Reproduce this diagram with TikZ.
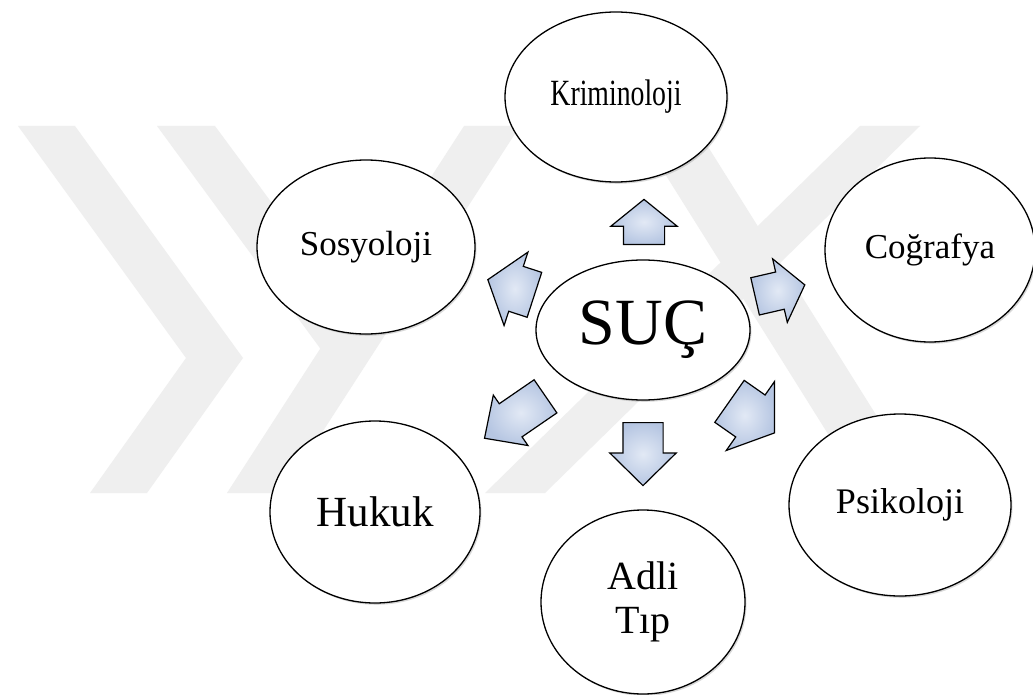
\documentclass[tikz,border=0pt]{standalone}
\usepackage{fontspec}
\usepackage{graphicx}
\setmainfont{Liberation Serif}
\usetikzlibrary{shapes.geometric,shapes.arrows,shadows}

\definecolor{bandgray}{RGB}{239,239,239}
\definecolor{arrowlo}{RGB}{182,198,226}
\definecolor{arrowhi}{RGB}{226,233,245}

\tikzset{
  topic/.style={ellipse, draw=black, line width=1.3pt, fill=white, inner sep=0pt,
    drop shadow={shadow xshift=1.5pt, shadow yshift=-1.8pt, opacity=0.3}},
  blockarrow/.style={single arrow, draw=black, line width=1.2pt, inner xsep=0pt,
    inner color=arrowhi, outer color=arrowlo, anchor=tail}
}

\begin{document}
\begin{tikzpicture}[x=1pt, y=-1pt]
    \useasboundingbox (0,0) rectangle (1033,695);
    \fill[white] (0,0) rectangle (1033,695);
    % watermark bands
    \fill[bandgray] (18,126) -- (75,126) -- (243,358) -- (147,493) -- (90,493) -- (186,358) -- cycle;
    \fill[bandgray] (227,493) -- (283,493) -- (520,126) -- (464,126) -- cycle;
    \fill[bandgray] (157,126) -- (215,126) -- (348,306) -- (350,389) -- cycle;
    \fill[bandgray] (485,493) -- (545,493) -- (920,126) -- (860,126) -- cycle;
    \fill[bandgray] (635,126) -- (695,126) -- (925,493) -- (865,493) -- cycle;

    % topics
    \node[topic, minimum width=222, minimum height=170, font=\fontsize{37}{42}\selectfont] (krim) at (616,97) {\scalebox{0.75}[1]{Kriminoloji}};
    \node[topic, minimum width=218, minimum height=174, font=\fontsize{35}{42}\selectfont] (sos) at (366,247) {Sosyoloji};
    \node[topic, minimum width=210, minimum height=184, font=\fontsize{35}{42}\selectfont] (cog) at (930,250) {Coğrafya};
    \node[topic, minimum width=214, minimum height=140, font=\fontsize{66}{70}\selectfont] (suc) at (643,330) {SUÇ};
    \node[topic, minimum width=210, minimum height=182, font=\fontsize{43}{48}\selectfont] (huk) at (375,512) {Hukuk};
    \node[topic, minimum width=204, minimum height=184, align=center, font=\fontsize{40}{44}\selectfont] (adli) at (643,602) {Adli\\Tıp};
    \node[topic, minimum width=222, minimum height=182, font=\fontsize{36}{42}\selectfont] (psi) at (900,505) {Psikoloji};

    % arrows out of SUÇ
    \foreach \nm/\x/\y/\ang/\len/\hw/\sw/\tip in {
        akrim/644/245/90/45/65/40/102,
        aadli/643/422/270/63/65/39/91,
        asos/535/295/162/49/76/46/105,
        acog/754.5/296.5/13/51/64/37/104,
        apsi/729/401/-35/55/83/50/110,
        ahuk/546/396/214.5/74/60/39/88}
    \node[blockarrow, rotate=\ang, minimum height=\len pt, inner ysep=\sw/2,
          single arrow head extend={(\hw-\sw)/2}, single arrow tip angle=\tip] (\nm) at (\x,\y) {};
\end{tikzpicture}
\end{document}
